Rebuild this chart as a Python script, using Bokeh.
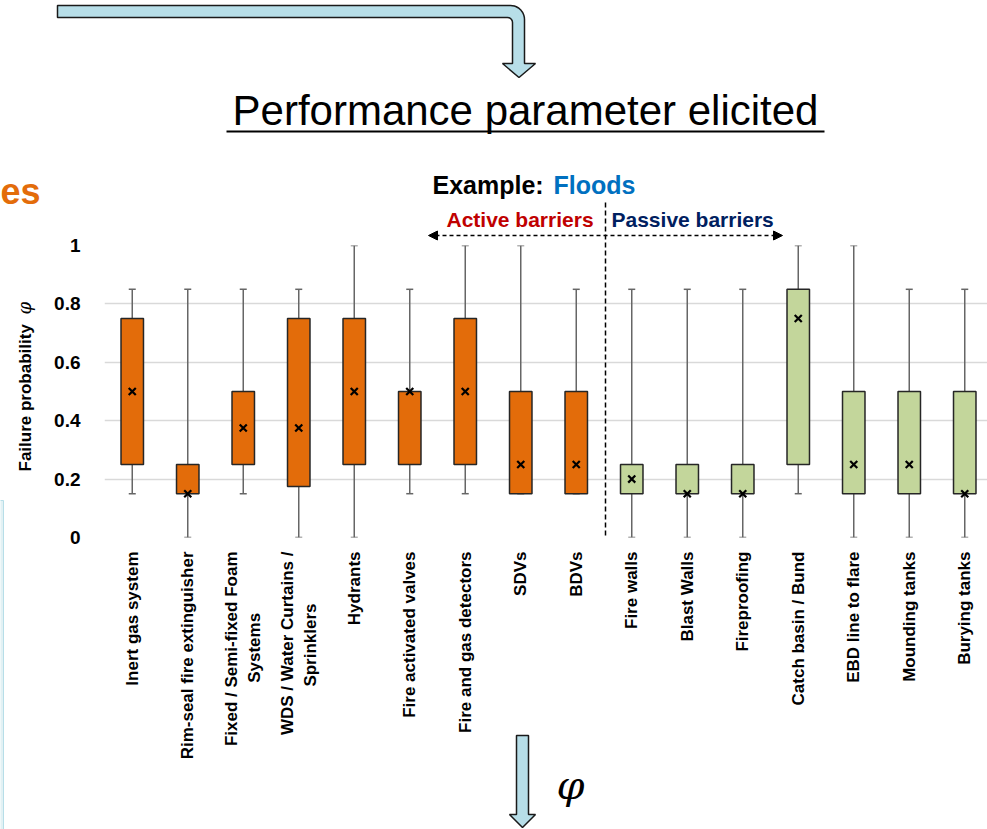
import math
import numpy as np
from bokeh.plotting import figure
from bokeh.layouts import column
from bokeh.models import Range1d, FixedTicker, Arrow, NormalHead
from bokeh.core.properties import value
from bokeh.embed import file_html
from bokeh.resources import INLINE

# ---------------- data ----------------
categories = [
    "Inert gas system", "Rim-seal fire extinguisher",
    "Fixed / Semi-fixed Foam\nSystems", "WDS / Water Curtains /\nSprinklers",
    "Hydrants", "Fire activated valves", "Fire and gas detectors", "SDVs", "BDVs",
    "Fire walls", "Blast Walls", "Fireproofing", "Catch basin / Bund",
    "EBD line to flare", "Mounding tanks", "Burying tanks",
]
barrier_type = ["Active"] * 9 + ["Passive"] * 7
mins = [0.15, 0.0, 0.15, 0.0, 0.0, 0.15, 0.15, 0.15, 0.15, 0.0, 0.0, 0.0, 0.15, 0.0, 0.0, 0.0]
q1 = [0.25, 0.15, 0.25, 0.175, 0.25, 0.25, 0.25, 0.15, 0.15, 0.15, 0.15, 0.15, 0.25, 0.15, 0.15, 0.15]
q3 = [0.75, 0.25, 0.5, 0.75, 0.75, 0.5, 0.75, 0.5, 0.5, 0.25, 0.25, 0.25, 0.85, 0.5, 0.5, 0.5]
maxs = [0.85, 0.85, 0.85, 0.85, 1.0, 0.85, 1.0, 1.0, 0.85, 0.85, 0.85, 0.85, 1.0, 1.0, 0.85, 0.85]
means = [0.5, 0.15, 0.375, 0.375, 0.5, 0.5, 0.5, 0.25, 0.25, 0.2, 0.15, 0.15, 0.75, 0.25, 0.25, 0.15]
y_ticks = [0, 0.2, 0.4, 0.6, 0.8, 1]
y_tick_labels = ["0", "0.2", "0.4", "0.6", "0.8", "1"]

type_colors = {"Active": "#E36C0A", "Passive": "#C3D69B"}

# ---------------- layout ----------------
W, H = 987, 829
FRAME_L, FRAME_R, FRAME_T, FRAME_B = 104, 987, 245, 537
PX_PER_CAT = 55.5
X0 = 0.5
X1 = X0 + (FRAME_R - FRAME_L) / PX_PER_CAT
FONT = "Liberation Sans"
NBSP = "\u00a0"
# trailing padding (in no-break spaces) so that a second label line sits centred
second_line_pad = {2: 13, 3: 11}


def tick_label(i, name):
    if "\n" in name:
        first, second = name.split("\n")
        return first + "\n" + second + NBSP * second_line_pad.get(i, 0)
    return name


xs = list(range(1, len(categories) + 1))
colors = [type_colors[t] for t in barrier_type]

# ================= chart =================
p = figure(width=W, height=H, x_range=Range1d(X0, X1), y_range=Range1d(0, 1),
           output_backend="svg", toolbar_location=None,
           min_border_left=FRAME_L, min_border_right=W - FRAME_R,
           min_border_top=FRAME_T, min_border_bottom=H - FRAME_B,
           outline_line_color=None, background_fill_color="white",
           border_fill_color="white")
p.frame_align = False

p.xgrid.visible = False
p.ygrid.ticker = FixedTicker(ticks=y_ticks)
p.ygrid.grid_line_color = "#d9d9d9"
p.ygrid.grid_line_width = 1.5

yax = p.yaxis[0]
yax.ticker = FixedTicker(ticks=y_ticks)
yax.major_label_overrides = {t: l for t, l in zip(y_ticks, y_tick_labels)}
yax.axis_line_color = None
yax.major_tick_line_color = None
yax.minor_tick_line_color = None
yax.major_label_text_font = FONT
yax.major_label_text_font_style = "bold"
yax.major_label_text_font_size = "19px"
yax.major_label_text_color = "black"
yax.major_label_standoff = 18

xax = p.xaxis[0]
xax.ticker = FixedTicker(ticks=xs)
xax.major_label_overrides = {x: tick_label(i, c) for i, (x, c) in enumerate(zip(xs, categories))}
xax.major_label_orientation = math.pi / 2
xax.axis_line_color = None
xax.major_tick_line_color = None
xax.minor_tick_line_color = None
xax.major_label_text_font = FONT
xax.major_label_text_font_style = "bold"
xax.major_label_text_font_size = "17px"
xax.major_label_text_color = "black"
xax.major_label_standoff = 8

p.segment(x0=xs, y0=q3, x1=xs, y1=maxs, line_color="#666666", line_width=1.5)
p.segment(x0=xs, y0=mins, x1=xs, y1=q1, line_color="#666666", line_width=1.5)
p.scatter(x=xs, y=maxs, marker="dash", size=7, line_color="#666666", line_width=1.5)
p.scatter(x=xs, y=mins, marker="dash", size=7, line_color="#666666", line_width=1.5)
p.vbar(x=xs, bottom=q1, top=q3, width=0.405, fill_color=colors,
       line_color="#262626", line_width=1.5)
p.scatter(x=xs, y=means, marker="x", size=10, line_color="black", line_width=2.2)

# ================= overlay (pixel coordinates) =================
o = figure(width=W, height=H, x_range=Range1d(0, W), y_range=Range1d(H, 0),
           x_axis_type=None, y_axis_type=None, output_backend="svg",
           toolbar_location=None, min_border=0, outline_line_color=None,
           background_fill_color=None, border_fill_color=None)
o.frame_align = False
o.xgrid.visible = False
o.ygrid.visible = False
o.styles = {"margin-top": f"-{H}px"}

ARROW_FILL = "#B7DEE8"
OUTLINE = "#1a1a1a"

# bent block arrow at top
ax_, ay_ = [57.0], [5.0]
for th in np.linspace(math.pi / 2, 0, 12):
    ax_.append(510 + 14 * math.cos(th)); ay_.append(19 - 14 * math.sin(th))
for a, b in [(524, 63), (535, 63), (518.5, 77), (502, 63), (512, 63)]:
    ax_.append(a); ay_.append(b)
for th in np.linspace(0, math.pi / 2, 6):
    ax_.append(507 + 5 * math.cos(th)); ay_.append(22 - 5 * math.sin(th))
ax_.append(57.0); ay_.append(17.0)
o.patch(ax_, ay_, fill_color=ARROW_FILL, line_color=OUTLINE, line_width=1.5)

# bottom block arrow
o.patch([516, 528, 528, 535, 522, 509, 516], [735, 735, 814, 814, 827, 814, 814],
        fill_color=ARROW_FILL, line_color=OUTLINE, line_width=1.5)

# left edge panel
o.patch([-6, 3, 3, -6], [500, 500, 829, 829], fill_color="#E2F1F4",
        line_color="#B7DEE8", line_width=1)


def txt(x, y, t, size, style="normal", color="black", align="left",
        font=FONT, angle=0.0):
    # y is the vertical middle of the text
    o.text(x=[x], y=[y], text=[t], text_font=value(font), text_font_size=size,
           text_font_style=style, text_color=color, text_align=align,
           text_baseline="middle", angle=angle)


txt(525, 110, "Performance parameter elicited", "42px", align="center")
o.segment(x0=[226], y0=[131], x1=[824], y1=[131], line_color="black", line_width=2)

txt(0, 191, "es", "36px", style="bold", color="#E36C0A")

txt(432, 184, "Example:", "25px", style="bold")
txt(553, 184, "Floods", "25px", style="bold", color="#0070C0")
txt(446, 219, "Active barriers", "21px", style="bold", color="#C00000")
txt(611, 219, "Passive barriers", "21px", style="bold", color="#002060")

head = dict(size=9, fill_color="black", line_color="black")
o.add_layout(Arrow(start=NormalHead(**head), end=NormalHead(**head),
                   x_start=428, y_start=235, x_end=782, y_end=235,
                   line_color="black", line_width=1.5, line_dash="4 3"))
o.segment(x0=[605], y0=[202], x1=[605], y1=[537], line_color="black",
          line_width=1.5, line_dash="5 3")

# y axis title
txt(25, 471, "Failure probability", "17px", style="bold", angle=math.pi / 2)
txt(24, 314, "φ", "18px", style="italic", angle=math.pi / 2, font="DejaVu Serif")

# phi next to bottom arrow
txt(556, 784, "φ", "40px", style="italic", font="DejaVu Serif")

root = column(p, o)
open("out.html", "w").write(file_html(root, INLINE))
